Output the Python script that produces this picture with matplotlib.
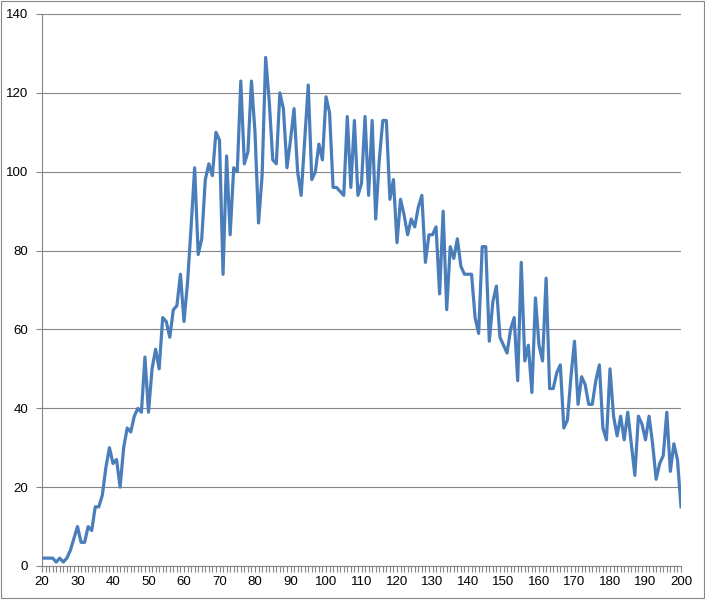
import numpy as np
import matplotlib
matplotlib.use("Agg")
import matplotlib.pyplot as plt
from matplotlib.patches import Rectangle
from matplotlib.ticker import MultipleLocator

# ── Data (x = 20..200, one value per integer) ─────────────────────────────────
x_start, x_end = 20, 200
values = [
    2, 2, 2, 2, 1, 2, 1, 2, 4, 7,            # 20-29
    10, 6, 6, 10, 9, 15, 15, 18, 25, 30,     # 30-39
    26, 27, 20, 30, 35, 34, 38, 40, 39, 53,  # 40-49
    39, 50, 55, 50, 63, 62, 58, 65, 66, 74,  # 50-59
    62, 72, 86, 101, 79, 83, 98, 102, 99, 110,   # 60-69
    108, 74, 104, 84, 101, 100, 123, 102, 105, 123,  # 70-79
    110, 87, 99, 129, 118, 103, 102, 120, 116, 101,  # 80-89
    108, 116, 100, 94, 108, 122, 98, 100, 107, 103,  # 90-99
    119, 115, 96, 96, 95, 94, 114, 96, 113, 94,      # 100-109
    97, 114, 94, 113, 88, 103, 113, 113, 93, 98,     # 110-119
    82, 93, 89, 84, 88, 86, 91, 94, 77, 84,          # 120-129
    84, 86, 69, 90, 65, 81, 78, 83, 76, 74,          # 130-139
    74, 74, 63, 59, 81, 81, 57, 67, 71, 58,          # 140-149
    56, 54, 60, 63, 47, 77, 52, 56, 44, 68,          # 150-159
    56, 52, 73, 45, 45, 49, 51, 35, 37, 48,          # 160-169
    57, 41, 48, 46, 41, 41, 47, 51, 35, 32,          # 170-179
    50, 38, 33, 38, 32, 39, 31, 23, 38, 36,          # 180-189
    32, 38, 31, 22, 26, 28, 39, 24, 31, 27,          # 190-199
    15,                                              # 200
]
xs = np.arange(x_start, x_end + 1)

LINE_COLOR = "#4a7ebb"
GRID_COLOR = "#868686"

plt.rcParams["font.family"] = ["Liberation Sans", "DejaVu Sans"]

fig = plt.figure(figsize=(7.05, 6.01), dpi=100)
ax = fig.add_axes([42 / 705, 1 - 566 / 601, (681 - 42) / 705, (566 - 14) / 601])

ax.plot(xs, values, color=LINE_COLOR, lw=2.3, solid_joinstyle="round", zorder=3)

ax.set_xlim(x_start, x_end)
ax.set_ylim(0, 140)
ax.xaxis.set_major_locator(MultipleLocator(10))
ax.xaxis.set_minor_locator(MultipleLocator(1))
ax.yaxis.set_major_locator(MultipleLocator(20))

ax.grid(axis="y", color=GRID_COLOR, lw=0.8)
ax.set_axisbelow(True)
for side in ["top", "right"]:
    ax.spines[side].set_visible(False)
for side in ["left", "bottom"]:
    ax.spines[side].set_color(GRID_COLOR)
    ax.spines[side].set_linewidth(0.8)

ax.tick_params(axis="x", which="major", length=4, color=GRID_COLOR, width=0.8,
               labelsize=9.5, pad=3)
ax.tick_params(axis="x", which="minor", length=4, color=GRID_COLOR, width=0.8)
ax.tick_params(axis="y", which="major", length=4, color=GRID_COLOR, width=0.8,
               labelsize=9.5, pad=6)

# chart area border
fig.patches.append(Rectangle((0.5 / 705, 3 / 601), 703.5 / 705, 597.5 / 601,
                             transform=fig.transFigure, fill=False,
                             edgecolor=GRID_COLOR, lw=0.8))

fig.savefig("out.png", dpi=100)
